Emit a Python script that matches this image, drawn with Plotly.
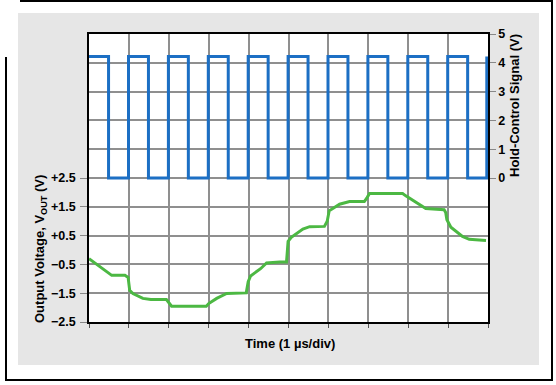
import plotly.graph_objects as go

# Hold-control signal (V) vs time (div)
hold_t = [0, 0.49, 0.49, 0.99, 0.99, 1.49, 1.49, 1.99, 1.99, 2.49, 2.49, 2.99, 2.99,
          3.49, 3.49, 3.99, 3.99, 4.49, 4.49, 4.99, 4.99, 5.49, 5.49, 5.99, 5.99,
          6.49, 6.49, 6.99, 6.99, 7.49, 7.49, 7.99, 7.99, 8.49, 8.49, 8.99, 8.99,
          9.49, 9.49, 9.97, 9.97]
hold_v = [4.22, 4.22, 0, 0, 4.22, 4.22, 0, 0, 4.22, 4.22, 0, 0, 4.22,
          4.22, 0, 0, 4.22, 4.22, 0, 0, 4.22, 4.22, 0, 0, 4.22,
          4.22, 0, 0, 4.22, 4.22, 0, 0, 4.22, 4.22, 0, 0, 4.22,
          4.22, 0, 0, 4.22]

# Output voltage (V) vs time (div)
out_t = [0, 0.3, 0.57, 0.9, 0.98, 1.02, 1.1, 1.35, 1.55, 1.94, 1.99, 2.07, 2.5, 2.94,
         3.0, 3.2, 3.45, 3.94, 3.99, 4.05, 4.3, 4.45, 4.78, 4.95, 4.99, 5.07, 5.36,
         5.53, 5.9, 5.97, 6.02, 6.28, 6.53, 6.9, 6.97, 7.03, 7.5, 7.86, 7.94, 8.19,
         8.44, 8.9, 8.94, 8.97, 9.07, 9.36, 9.53, 9.95]
out_v = [-0.3, -0.6, -0.88, -0.88, -0.95, -1.4, -1.51, -1.68, -1.72, -1.72, -1.8, -1.95,
         -1.95, -1.95, -1.86, -1.68, -1.51, -1.49, -1.1, -0.9, -0.65, -0.45, -0.42, -0.42,
         0.3, 0.44, 0.73, 0.81, 0.82, 1.0, 1.36, 1.59, 1.68, 1.68, 1.82, 1.96, 1.96,
         1.96, 1.88, 1.65, 1.44, 1.4, 1.3, 1.05, 0.79, 0.47, 0.37, 0.33]

left_tickvals = [-2.5, -1.5, -0.5, 0.5, 1.5, 2.5]
left_ticktext = ["\u22122.5", "\u22121.5", "\u22120.5", "+0.5", "+1.5", "+2.5"]
right_tickvals = [0, 1, 2, 3, 4, 5]
x_tickvals = [0, 1, 2, 3, 4, 5, 6, 7, 8, 9, 10]

FONT = "Liberation Sans, Arial, sans-serif"
GRID = "#8f8f8f"

fig = go.Figure()
fig.add_trace(go.Scatter(x=hold_t, y=hold_v, yaxis="y2", mode="lines",
                         line=dict(color="#1c6fc4", width=3), showlegend=False))
fig.add_trace(go.Scatter(x=out_t, y=out_v, yaxis="y", mode="lines",
                         line=dict(color="#4cb843", width=3), showlegend=False))

L, R, T, B = 89, 68, 34, 63
W, H = 556, 385
pw, ph = W - L - R, H - T - B


def px(x):
    return (x - L) / pw


def py(y):
    return (H - B - y) / ph


fig.update_layout(
    width=W, height=H,
    margin=dict(l=L, r=R, t=T, b=B, pad=0),
    paper_bgcolor="white",
    plot_bgcolor="white",
    font=dict(family=FONT, size=12, color="black", weight="bold"),
    xaxis=dict(range=[0, 10], tickvals=x_tickvals, showticklabels=False,
               showgrid=True, gridcolor=GRID, gridwidth=1.5,
               ticks="outside", ticklen=4, tickcolor="#555", tickwidth=1,
               showline=True, linecolor="black", linewidth=1.5, mirror=True,
               zeroline=False, fixedrange=True),
    yaxis=dict(range=[-2.5, 7.5], tickvals=left_tickvals, ticktext=left_ticktext,
               showgrid=True, gridcolor=GRID, gridwidth=1.5,
               ticks="outside", ticklen=7, tickcolor="#888", tickwidth=1,
               showline=True, linecolor="black", linewidth=1.5,
               zeroline=False, tickfont=dict(size=12.5, weight="bold"),
               ticklabelstandoff=2),
    yaxis2=dict(range=[-5, 5], tickvals=right_tickvals, overlaying="y", side="right",
                showgrid=True, gridcolor=GRID, gridwidth=1.5,
                ticks="outside", ticklen=6, tickcolor="#888", tickwidth=1,
                showline=True, linecolor="black", linewidth=1.5,
                zeroline=False, tickfont=dict(size=12.5, weight="bold"),
                ticklabelstandoff=0),
    shapes=[
        dict(type="rect", xref="paper", yref="paper", layer="below",
             x0=px(18), x1=px(539), y0=py(365), y1=py(13),
             fillcolor="#e6e6e6", line=dict(width=0)),
        dict(type="rect", xref="x", yref="y", layer="below",
             x0=0, x1=10, y0=-2.5, y1=7.5,
             fillcolor="white", line=dict(width=0)),
        dict(type="path", xref="paper", yref="paper", layer="above",
             path=f"M {px(20)},{py(1)} L {px(552)},{py(1)} L {px(552)},{py(380)} "
                  f"L {px(6)},{py(380)} L {px(6)},{py(57)}",
             line=dict(color="black", width=2)),
    ],
    annotations=[
        dict(text="Output Voltage, V<sub>OUT</sub> (V)", textangle=-90,
             xref="paper", yref="paper", x=px(40), y=py(249),
             xanchor="center", yanchor="middle", showarrow=False,
             font=dict(size=13, weight="bold")),
        dict(text="Hold-Control Signal (V)", textangle=-90,
             xref="paper", yref="paper", x=px(514), y=py(106),
             xanchor="center", yanchor="middle", showarrow=False,
             font=dict(size=13, weight="bold")),
        dict(text="Time (1 \u00b5s/div)",
             xref="paper", yref="paper", x=px(290), y=py(343),
             xanchor="center", yanchor="middle", showarrow=False,
             font=dict(size=13, weight="bold")),
    ],
)

fig.write_html("out.html")
